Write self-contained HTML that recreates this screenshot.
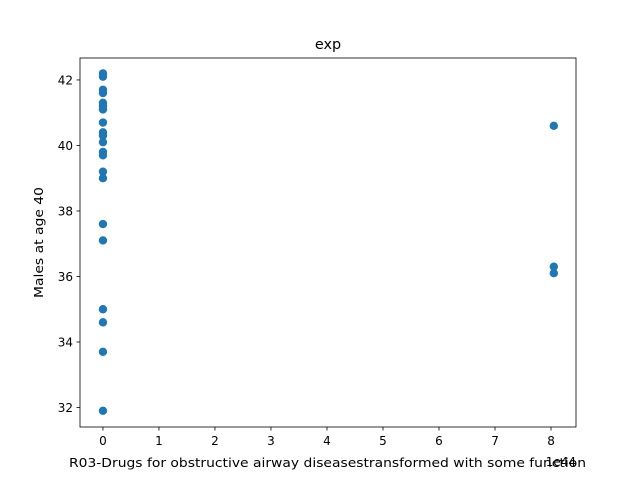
<!DOCTYPE html>
<html><head><meta charset="utf-8"><style>
body{margin:0;background:#fff;}
svg text{font-family:"DejaVu Sans","Liberation Sans",sans-serif;fill:#000;}
</style></head><body>
<svg width="640" height="480" xmlns="http://www.w3.org/2000/svg">
<rect width="640" height="480" fill="#fff"/>
<text x="328" y="49" font-size="14.4" text-anchor="middle">exp</text>
<g id="xt"></g>
<g id="yt"></g>
<g id="pts"></g>
<rect x="80" y="58" width="496" height="369" fill="none" stroke="#000" stroke-width="0.8"/>
<text x="69" y="467" font-size="12" textLength="517" lengthAdjust="spacingAndGlyphs">R03-Drugs for obstructive airway diseasestransformed with some function</text>
<text x="576" y="466" font-size="12" text-anchor="end">1e44</text>
<text transform="translate(43,298) rotate(-90)" font-size="12" textLength="111" lengthAdjust="spacingAndGlyphs">Males at age 40</text>
</svg>
<script>
const xTicks=[0,1,2,3,4,5,6,7,8];
const yTicks=[32,34,36,38,40,42];
const xVals=[0,0,0,0,0,0,0,0,0,0,0,0,0,0,0,0,0,0,0,0,0,8.05,8.05,8.05];
const yVals=[42.2,42.1,41.7,41.6,41.3,41.2,41.1,40.7,40.4,40.3,40.1,39.8,39.7,39.2,39.0,37.6,37.1,35.0,34.6,33.7,31.9,40.6,36.3,36.1];
const X0=80,X1=576,Y0=427,Y1=58,xmin=-0.41,xmax=8.446,ymin=31.405,ymax=42.67;
const sx=v=>X0+(v-xmin)/(xmax-xmin)*(X1-X0);
const sy=v=>Y0-(v-ymin)/(ymax-ymin)*(Y0-Y1);
const NS="http://www.w3.org/2000/svg";
const xt=document.getElementById('xt'),yt=document.getElementById('yt'),pts=document.getElementById('pts');
xTicks.forEach(t=>{
 const l=document.createElementNS(NS,'line');
 l.setAttribute('x1',sx(t));l.setAttribute('x2',sx(t));l.setAttribute('y1',427);l.setAttribute('y2',430.5);l.setAttribute('stroke','#000');l.setAttribute('stroke-width','0.8');
 
 
 xt.appendChild(l);
 const tx=document.createElementNS(NS,'text');
 tx.setAttribute('x',sx(t));tx.setAttribute('y',445);tx.setAttribute('font-size','12');tx.setAttribute('text-anchor','middle');tx.textContent=t;
 
 
 xt.appendChild(tx);
});
yTicks.forEach(t=>{
 const l=document.createElementNS(NS,'line');
 l.setAttribute('x1',76.5);l.setAttribute('x2',80);l.setAttribute('y1',sy(t));l.setAttribute('y2',sy(t));l.setAttribute('stroke','#000');l.setAttribute('stroke-width','0.8');
 
 
 yt.appendChild(l);
 const tx=document.createElementNS(NS,'text');
 tx.setAttribute('x',73);tx.setAttribute('y',sy(t)+4.5);tx.setAttribute('font-size','12');tx.setAttribute('text-anchor','end');tx.textContent=t;
 
 
 yt.appendChild(tx);
});
xVals.forEach((v,i)=>{
 const c=document.createElementNS(NS,'circle');
 c.setAttribute('cx',sx(v));c.setAttribute('cy',sy(yVals[i]));c.setAttribute('r',4.2);c.setAttribute('fill','#1f77b4');
 
 
 pts.appendChild(c);
});
</script>
</body></html>
